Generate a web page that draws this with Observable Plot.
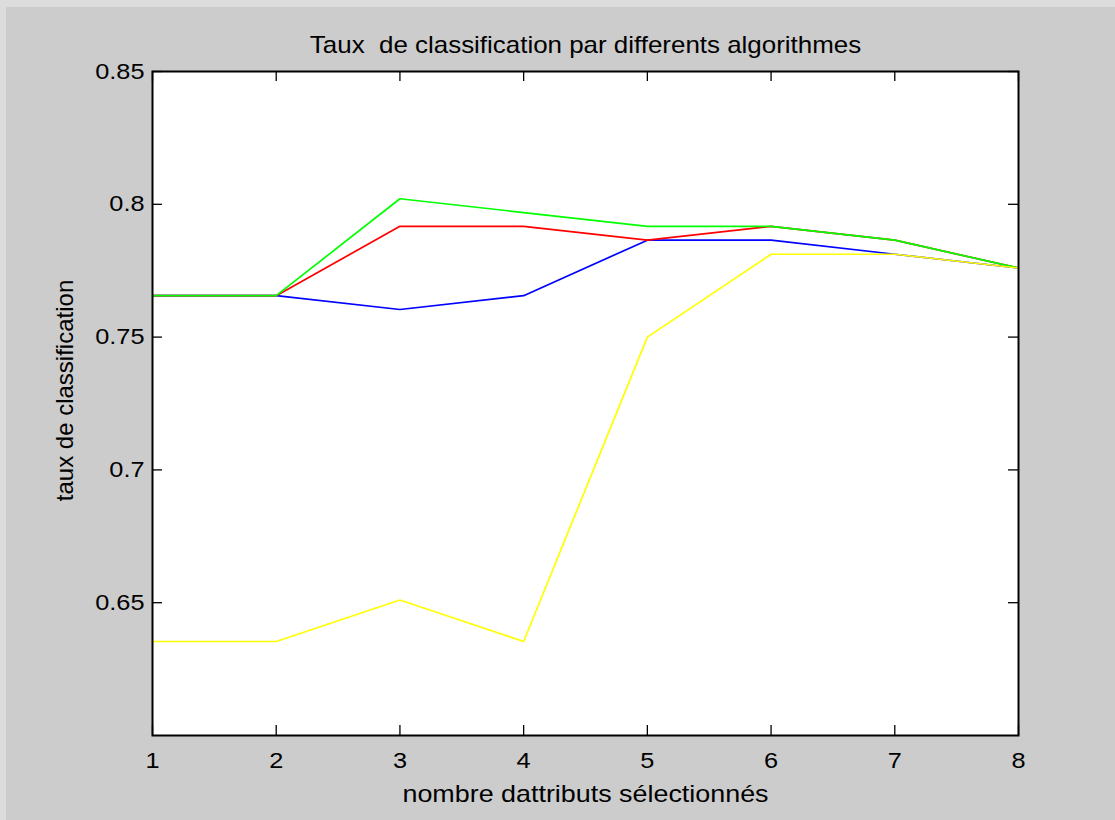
<!DOCTYPE html>
<html>
<head>
<meta charset="utf-8">
<script src="https://cdn.jsdelivr.net/npm/d3@7"></script>
<script src="https://cdn.jsdelivr.net/npm/@observablehq/plot@0.6"></script>
<style>
  html, body { margin: 0; padding: 0; background: #cccccc; }
  #chart svg { display: block; box-shadow: inset 6px 7px 0 0 #dcdcdc; }
</style>
</head>
<body>
<div id="chart"></div>
<script>
// Nombre d'attributs sélectionnés (axe x)
const nbAttributs = [1, 2, 3, 4, 5, 6, 7, 8];

// Taux de classification obtenus par chaque algorithme
const tauxBleu  = [0.7656, 0.7656, 0.7604, 0.7656, 0.7865, 0.7865, 0.7812, 0.7760];
const tauxRouge = [0.7656, 0.7656, 0.7917, 0.7917, 0.7865, 0.7917, 0.7865, 0.7760];
const tauxVert  = [0.7656, 0.7656, 0.8021, 0.7969, 0.7917, 0.7917, 0.7865, 0.7760];
const tauxJaune = [0.6354, 0.6354, 0.6510, 0.6354, 0.7500, 0.7812, 0.7812, 0.7760];

// Graduations des axes
const ticksX = [1, 2, 3, 4, 5, 6, 7, 8];
const ticksY = [0.65, 0.7, 0.75, 0.8, 0.85];

const titre = "Taux  de classification par differents algorithmes";
const labelX = "nombre dattributs sélectionnés";
const labelY = "taux de classification";

const series = [
  { nom: "bleu",  couleur: "#0000ff", valeurs: tauxBleu },
  { nom: "rouge", couleur: "#ff0000", valeurs: tauxRouge },
  { nom: "vert",  couleur: "#00ff00", valeurs: tauxVert },
  { nom: "jaune", couleur: "#ffff00", valeurs: tauxJaune }
];

const lignes = series.flatMap(s =>
  s.valeurs.map((v, i) => ({ serie: s.nom, x: nbAttributs[i], y: v }))
);

const W = 1115, H = 820;
const mL = 152, mT = 71, mR = 97, mB = 85;
const innerW = W - mL - mR, innerH = H - mT - mB;
const tickLen = 10;
const police = "'Liberation Sans', Arial, Helvetica, sans-serif";

const graphique = Plot.plot({
  width: W,
  height: H,
  marginLeft: mL,
  marginTop: mT,
  marginRight: mR,
  marginBottom: mB,
  style: { background: "#cccccc", fontFamily: police, color: "black" },
  x: { domain: [1, 8] },
  y: { domain: [0.6, 0.85] },
  color: { domain: series.map(s => s.nom), range: series.map(s => s.couleur) },
  marks: [
    Plot.frame({ fill: "white", stroke: "none" }),
    Plot.line(lignes, { x: "x", y: "y", z: "serie", stroke: "serie", strokeWidth: 1.7, strokeLinejoin: "miter", strokeLinecap: "butt" }),
    // graduations tournées vers l'intérieur, sur les quatre côtés
    Plot.tickX(ticksX, { x: d => d, insetTop: innerH - tickLen, stroke: "black", strokeWidth: 1.3 }),
    Plot.tickX(ticksX, { x: d => d, insetBottom: innerH - tickLen, stroke: "black", strokeWidth: 1.3 }),
    Plot.tickY(ticksY, { y: d => d, insetRight: innerW - tickLen, stroke: "black", strokeWidth: 1.3 }),
    Plot.tickY(ticksY, { y: d => d, insetLeft: innerW - tickLen, stroke: "black", strokeWidth: 1.3 }),
    Plot.frame({ stroke: "black", strokeWidth: 2 }),
    Plot.axisX(ticksX, { tickSize: 0, tickPadding: 17, fontSize: 22, label: null, tickFormat: d => String(d) }),
    Plot.axisY(ticksY, { tickSize: 0, tickPadding: 8, fontSize: 22, label: null, tickFormat: d => String(d) }),
    Plot.text([titre], { frameAnchor: "top", lineAnchor: "bottom", textAnchor: "middle", dy: -19, fontSize: 24, fill: "black" }),
    Plot.text([labelX], { frameAnchor: "bottom", lineAnchor: "bottom", textAnchor: "middle", dy: 66, fontSize: 24, fill: "black" }),
    Plot.text([labelY], { frameAnchor: "left", lineAnchor: "bottom", textAnchor: "middle", rotate: -90, dx: -80, dy: -13, fontSize: 24, fill: "black" })
  ]
});

document.getElementById("chart").appendChild(graphique);

// Léger élargissement horizontal des textes, façon rendu MATLAB
graphique.querySelectorAll("text").forEach(t => {
  const contenu = t.textContent;
  if (contenu === labelY) return;
  let f = 1.15;
  if (contenu === titre) f = 1.08;
  if (contenu === labelX) f = 1.12;
  const l = t.getComputedTextLength();
  t.setAttribute("textLength", (l * f).toFixed(1));
  t.setAttribute("lengthAdjust", "spacingAndGlyphs");
});
</script>
</body>
</html>
